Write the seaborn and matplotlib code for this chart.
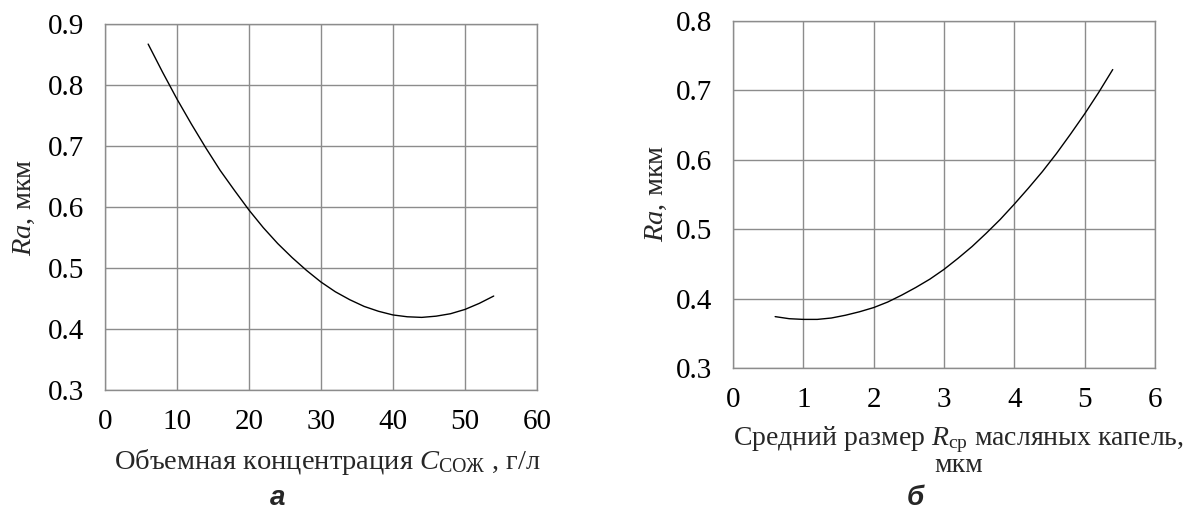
import numpy as np
import pandas as pd
import matplotlib
matplotlib.use("Agg")
import matplotlib.pyplot as plt
import seaborn as sns

# ---- data ----
conc_x = [6, 8, 10, 12, 14, 16, 18, 20, 22, 24, 26, 28, 30, 32, 34, 36, 38,
          40, 42, 44, 46, 48, 50, 52, 54]
conc_ra = [0.867, 0.821, 0.777, 0.736, 0.697, 0.660, 0.627, 0.595, 0.566,
           0.540, 0.517, 0.496, 0.477, 0.461, 0.448, 0.437, 0.429, 0.423,
           0.420, 0.419, 0.421, 0.425, 0.432, 0.442, 0.454]

size_x = [0.6, 0.8, 1.0, 1.2, 1.4, 1.6, 1.8, 2.0, 2.2, 2.4, 2.6, 2.8, 3.0,
          3.2, 3.4, 3.6, 3.8, 4.0, 4.2, 4.4, 4.6, 4.8, 5.0, 5.2, 5.4]
size_ra = [0.374, 0.371, 0.370, 0.370, 0.372, 0.376, 0.381, 0.387, 0.395,
           0.405, 0.416, 0.428, 0.442, 0.458, 0.475, 0.494, 0.514, 0.536,
           0.559, 0.583, 0.609, 0.637, 0.666, 0.697, 0.730]

left_xticks = [0, 10, 20, 30, 40, 50, 60]
left_yticks = [0.3, 0.4, 0.5, 0.6, 0.7, 0.8, 0.9]
right_xticks = [0, 1, 2, 3, 4, 5, 6]
right_yticks = [0.3, 0.4, 0.5, 0.6, 0.7, 0.8]

left_xlabel = "Объемная концентрация $C_{\\mathrm{СОЖ}}$ , г/л"
right_xlabel = "Средний размер $R_{\\mathrm{ср}}$ масляных капель,\nмкм"
ylabel = "$Ra$, мкм"
captions = ["а", "б"]

# ---- style ----
sns.set_theme(style="white")
plt.rcParams['font.family'] = ['Liberation Serif', 'DejaVu Serif']
plt.rcParams['mathtext.fontset'] = 'custom'
plt.rcParams['mathtext.rm'] = 'Liberation Serif'
plt.rcParams['mathtext.it'] = 'Liberation Serif:italic'
plt.rcParams['mathtext.bf'] = 'Liberation Serif:bold'

GRID = "#8c8c8c"
TICK_FS = 21
LABEL_FS = 20.5

fig = plt.figure(figsize=(11.86, 5.13), dpi=100)
ax1 = fig.add_axes([0.0885, 0.2398, 0.3642, 0.7135])
ax2 = fig.add_axes([0.618, 0.2827, 0.3558, 0.6764])

df1 = pd.DataFrame({"x": conc_x, "y": conc_ra})
df2 = pd.DataFrame({"x": size_x, "y": size_ra})

for ax, df, xt, yt in [(ax1, df1, left_xticks, left_yticks),
                       (ax2, df2, right_xticks, right_yticks)]:
    sns.lineplot(data=df, x="x", y="y", ax=ax, color="black", linewidth=1.0,
                 zorder=3)
    ax.set_xlim(xt[0], xt[-1])
    ax.set_ylim(yt[0], yt[-1])
    ax.set_xticks(xt)
    ax.set_yticks(yt)
    ax.set_xticklabels([str(v) for v in xt])
    ax.set_yticklabels([f"{v:.1f}" for v in yt])
    ax.grid(True, color=GRID, linewidth=1.0)
    for s in ax.spines.values():
        s.set_color(GRID)
        s.set_linewidth(1.0)
    ax.tick_params(axis="both", which="both", direction="out", length=6,
                   width=1.0, color=GRID, labelsize=TICK_FS, labelcolor="black")
    ax.tick_params(axis="x", pad=8)
    ax.tick_params(axis="y", pad=9)
    ax.set_ylabel(ylabel, fontsize=LABEL_FS, va="center")

ax1.set_xlabel(left_xlabel, fontsize=LABEL_FS, va="center")
ax2.set_xlabel(right_xlabel, fontsize=LABEL_FS - 0.5, va="center",
               linespacing=0.9)
ax1.xaxis.set_label_coords(0.516, -0.197)
ax2.xaxis.set_label_coords(0.535, -0.239)
ax1.yaxis.set_label_coords(-0.1875, 0.5)
ax2.yaxis.set_label_coords(-0.182, 0.504)

fig.text(0.2344, 0.004, captions[0], fontsize=20, family="Liberation Sans",
         fontweight="bold", style="italic", ha="center", va="bottom")
fig.text(0.7715, 0.004, captions[1], fontsize=20, family="Liberation Sans",
         fontweight="bold", style="italic", ha="center", va="bottom")

fig.savefig("out.png", dpi=100, facecolor="white")
